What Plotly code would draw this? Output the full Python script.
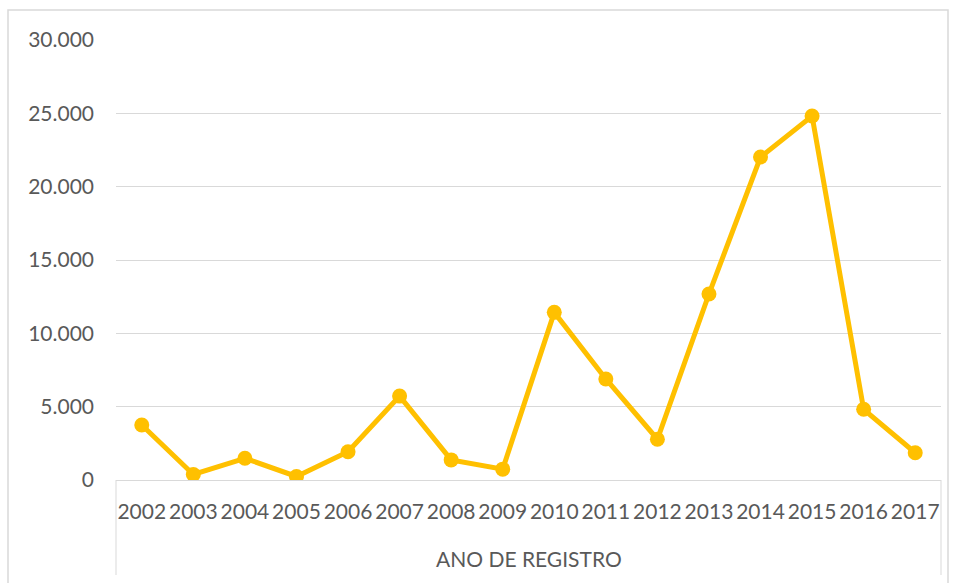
import plotly.graph_objects as go

years = ["2002", "2003", "2004", "2005", "2006", "2007", "2008", "2009",
         "2010", "2011", "2012", "2013", "2014", "2015", "2016", "2017"]
registros = [3750, 380, 1480, 240, 1930, 5720, 1370, 740,
             11430, 6890, 2780, 12680, 22020, 24820, 4820, 1860]
y_ticks = [0, 5000, 10000, 15000, 20000, 25000, 30000]
x_title = "ANO DE REGISTRO"

GOLD = "#FFC000"
GRID = "#D9D9D9"
TEXT = "#595959"
FONT = "Lato"
FS = 21

fig = go.Figure()
fig.add_trace(go.Scatter(
    x=years, y=registros, mode="lines+markers",
    line=dict(color=GOLD, width=5),
    marker=dict(color=GOLD, size=15),
    showlegend=False,
))

W, H = 957, 583
L, R, T, B = 116, 16, 40, 103
pw, ph = W - L - R, H - T - B

def px(x):
    return (x - L) / pw

def py(y):
    return (H - B - y) / ph

shapes = [
    # chart border
    dict(type="rect", xref="paper", yref="paper",
         x0=px(8), x1=px(948), y0=py(600), y1=py(10),
         line=dict(color=GRID, width=1.5), layer="below"),
    # category box verticals
    dict(type="line", xref="paper", yref="paper",
         x0=0, x1=0, y0=0, y1=py(575), line=dict(color=GRID, width=1)),
    dict(type="line", xref="paper", yref="paper",
         x0=1, x1=1, y0=0, y1=py(575), line=dict(color=GRID, width=1)),
]

fig.update_layout(
    width=W, height=H,
    margin=dict(l=L, r=R, t=T, b=B),
    paper_bgcolor="white", plot_bgcolor="white",
    separators=",.",
    font=dict(family=FONT, color=TEXT, size=FS),
    shapes=shapes,
    annotations=[dict(text=x_title, xref="paper", yref="paper",
                      x=0.5, y=py(558), xanchor="center", yanchor="middle",
                      showarrow=False, font=dict(family=FONT, size=FS, color=TEXT))],
    xaxis=dict(type="category", range=[-0.5, len(years) - 0.5], tickangle=0,
               showgrid=False, showline=True, linecolor=GRID,
               linewidth=1, ticks="", ticklabelstandoff=13,
               tickfont=dict(family=FONT, size=FS, color=TEXT), fixedrange=True),
    yaxis=dict(range=[0, 30000], tickvals=y_ticks, tickformat=",.0f",
               showgrid=True, gridcolor=GRID, gridwidth=1, zeroline=False,
               showline=False, ticks="", ticklabelstandoff=21,
               tickfont=dict(family=FONT, size=FS, color=TEXT)),
)

fig.write_html("out.html")
